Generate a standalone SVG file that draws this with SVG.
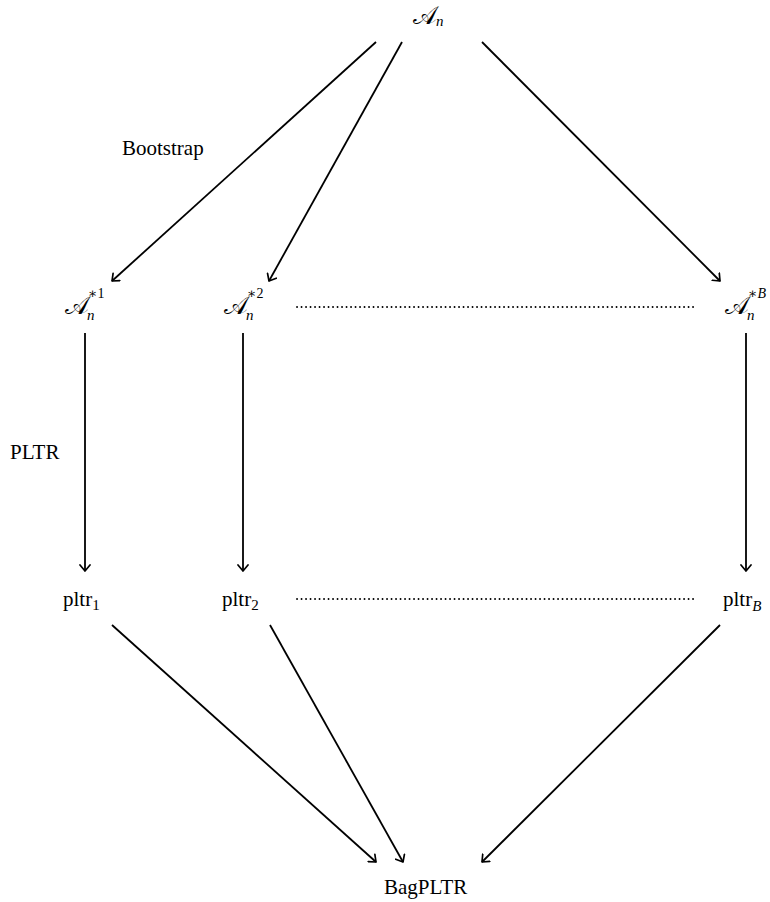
<svg xmlns="http://www.w3.org/2000/svg" width="770" height="902" viewBox="0 0 770 902">
  <style>
    .lbl { font-family: "Liberation Serif", "DejaVu Serif", serif; font-size: 21px; fill: #000; }
    .cal { font-family: "DejaVu Serif", "Liberation Serif", serif; font-size: 25px; fill: #000; }
    .it { font-family: "Liberation Serif", "DejaVu Serif", serif; font-style: italic; font-size: 15px; fill: #000; }
    .sup { font-family: "Liberation Serif", "DejaVu Serif", serif; font-size: 14px; fill: #000; }
    .sub { font-size: 15px; }
    .edge { stroke: #000; stroke-width: 1.8; fill: none; marker-end: url(#arr); }
    .dots { stroke: #000; stroke-width: 1.8; fill: none; stroke-dasharray: 0.1 4.4; stroke-linecap: round; }
  </style>
  <defs>
    <marker id="arr" viewBox="-7 -6 9 12" markerWidth="9" markerHeight="12" refX="0" refY="0" orient="auto" markerUnits="userSpaceOnUse">
      <path d="M -6 -5 L 0 0 L -6 5" stroke="#000" stroke-width="1.7" fill="none" stroke-linecap="round" stroke-linejoin="round"/>
    </marker>
  </defs>

  <!-- arrows and dotted rows -->
  <g id="connectors">
    <line class="edge" x1="376" y1="42" x2="112" y2="281"/>
    <line class="edge" x1="402" y1="42" x2="269" y2="281"/>
    <line class="edge" x1="482" y1="42" x2="720" y2="281"/>
    <line class="edge" x1="85" y1="333" x2="85" y2="571"/>
    <line class="edge" x1="243" y1="333" x2="243" y2="571"/>
    <line class="edge" x1="746" y1="333" x2="746" y2="571"/>
    <line class="edge" x1="112" y1="625" x2="376" y2="862"/>
    <line class="edge" x1="270" y1="625" x2="403" y2="862"/>
    <line class="edge" x1="720" y1="625" x2="482" y2="862"/>
    <line class="dots" x1="297" y1="307" x2="694" y2="307"/>
    <line class="dots" x1="297" y1="599" x2="694" y2="599"/>
  </g>

  <g id="An">
    <text class="cal" x="413" y="24">𝒜</text>
    <text class="it" x="436" y="26">n</text>
  </g>
  <g id="A1">
    <text class="cal" x="65" y="314">𝒜</text>
    <text class="it" x="87" y="320">n</text>
    <text class="sup" x="88" y="298">∗1</text>
  </g>
  <g id="A2">
    <text class="cal" x="224" y="314">𝒜</text>
    <text class="it" x="246" y="320">n</text>
    <text class="sup" x="247" y="298">∗2</text>
  </g>
  <g id="AB">
    <text class="cal" x="725" y="314">𝒜</text>
    <text class="it" x="747" y="320">n</text>
    <text class="sup" x="748" y="298">∗<tspan font-style="italic">B</tspan></text>
  </g>
  <g id="pltr1">
    <text class="lbl" x="63" y="606">pltr<tspan class="sub" dy="4">1</tspan></text>
  </g>
  <g id="pltr2">
    <text class="lbl" x="222" y="606">pltr<tspan class="sub" dy="4">2</tspan></text>
  </g>
  <g id="pltrB">
    <text class="lbl" x="723" y="606">pltr<tspan class="sub" font-style="italic" dy="5">B</tspan></text>
  </g>
  <g id="bag">
    <text class="lbl" x="384" y="894">BagPLTR</text>
  </g>
  <g id="labels">
    <text class="lbl" x="122" y="155">Bootstrap</text>
    <text class="lbl" x="10" y="459">PLTR</text>
  </g>
</svg>
